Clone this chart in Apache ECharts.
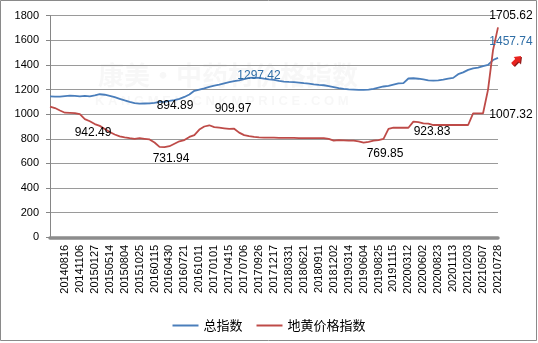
<!DOCTYPE html>
<html><head><meta charset="utf-8">
<script src="https://cdn.jsdelivr.net/npm/echarts@6/dist/echarts.min.js"></script>
<style>html,body{margin:0;padding:0;background:#fff}#c{width:538px;height:343px}</style>
</head><body><div id="c"></div>
<script>
var dates = [
'20140525','20140621','20140719','20140816','20140913','20141010','20141106','20141203','20141230',
'20150127','20150302','20150408','20150514','20150611','20150708','20150804','20150831','20150928',
'20151025','20151121','20151218','20160115','20160222','20160326','20160430','20160527','20160624',
'20160721','20160817','20160914','20161011','20161107','20161205','20170101','20170205','20170312',
'20170415','20170512','20170609','20170706','20170802','20170829','20170926','20171023','20171120',
'20171217','20180121','20180225','20180331','20180427','20180524','20180621','20180718','20180814',
'20180911','20181008','20181105','20181202','20190105','20190208','20190314','20190410','20190507',
'20190604','20190701','20190728','20190825','20190921','20191018','20191115','20191225','20200201',
'20200312','20200408','20200505','20200602','20200629','20200726','20200823','20200919','20201016',
'20201113','20201210','20210107','20210203','20210307','20210405','20210507','20210603','20210630',
'20210728'];
var totalIndex = [
1145,1142,1143,1147,1150,1148,1145,1148,1144,1152,1162,1158,1148,1138,1125,1112,1100,1090,1086,1087,
1088,1092,1100,1100,1108,1115,1125,1140,1160,1190,1200,1210,1222,1232,1240,1250,1260,1268,1275,1285,
1295,1297.42,1295,1288,1282,1278,1270,1265,1262,1260,1257,1252,1248,1242,1238,1235,1228,1220,1212,1206,
1202,1200,1198,1197,1200,1205,1215,1225,1230,1240,1250,1252,1290,1292,1288,1282,1275,1272,1275,1280,
1288,1295,1325,1340,1360,1372,1378,1390,1400,1440,1457.74];
var dihuangIndex = [
1062,1050,1030,1012,1010,1008,1000,960,942.49,920,905,880,855,835,820,812,805,800,805,800,
795,770,735,731.94,740,760,780,790,815,830,875,900,909.97,895,890,885,880,882,850,830,
822,815,812,810,810,809,808,808,807,807,806,806,805,805,805,805,800,785,790,788,
785,785,780,769.85,775,785,790,800,880,890,890,890,890,940,935,925,923.83,912,912,912,
912,912,912,912,912,1007.32,1007.32,1007.32,1200,1520,1705.62];
var seriesNames = ['总指数','地黄价格指数'];
var yTicks = {min:0, max:1800, interval:200};
var notes = [
  {t:'1297.42', x:259, y:76, c:'#2f6ea6'},
  {t:'894.89', x:175, y:106, c:'#000'},
  {t:'909.97', x:233, y:109, c:'#000'},
  {t:'942.49', x:93, y:133, c:'#000'},
  {t:'731.94', x:171, y:159, c:'#000'},
  {t:'769.85', x:385, y:154, c:'#000'},
  {t:'923.83', x:432, y:132, c:'#000'},
  {t:'1007.32', x:511, y:115, c:'#000'},
  {t:'1705.62', x:511, y:16, c:'#000'},
  {t:'1457.74', x:511, y:42, c:'#2f6ea6'}
];

var chart = echarts.init(document.getElementById('c'), null, {renderer:'canvas'});
var g = [
  {type:'rect', shape:{x:0.5,y:0.5,width:536,height:340}, style:{fill:null, stroke:'#8a8a8a', lineWidth:1}, z:0},
  {type:'text', x:98, y:62, style:{text:'康美·中药材价格指数', font:'bold 26px "Noto Sans CJK SC"', fill:'rgba(190,190,190,0.13)'}, z:0},
  {type:'text', x:95, y:95, style:{text:'K A N G M E I    C N K M P R I C E . C O M', font:'bold 13px "Liberation Sans"', fill:'rgba(190,190,190,0.13)'}, z:0},
  {type:'polygon', shape:{points:[[522,57],[521,64.4],[519.2,62.6],[514.9,66.9],[512.1,64.1],[516.4,59.8],[514.6,58]]}, style:{fill:'#8b1a1a'}, z:5},
  {type:'polygon', shape:{points:[[521,56],[520,63.4],[518.2,61.6],[513.9,65.9],[511.1,63.1],[515.4,58.8],[513.6,57]]}, style:{fill:'#e8231f'}, z:6}
];
notes.forEach(function(n){
  g.push({type:'text', x:n.x, y:n.y, style:{text:n.t, fill:n.c, font:'12px "Liberation Sans"', textAlign:'center', textVerticalAlign:'middle'}, z:10});
});

chart.setOption({
  animation:false,
  backgroundColor:'#fff',
  grid:{left:50, right:40, top:15.7, bottom:105.7, containLabel:false},
  legend:{
    data:[{name:seriesNames[0], icon:'rect'},{name:seriesNames[1], icon:'rect'}],
    left:'center', top:314, itemWidth:26, itemHeight:2, itemGap:14,
    textStyle:{fontSize:13, color:'#000', fontFamily:'"Noto Sans CJK SC"'}
  },
  xAxis:{
    type:'category', data:dates, boundaryGap:false, offset:1.5,
    axisLine:{show:true, lineStyle:{color:'#8c8c8c', width:3.5}},
    axisTick:{show:false},
    splitLine:{show:false},
    axisLabel:{
      rotate:90, fontSize:11, color:'#000', fontFamily:'"Liberation Sans"', margin:6,
      interval:function(i){return i>=3 && i%3===0;}
    }
  },
  yAxis:{
    type:'value', min:yTicks.min, max:yTicks.max, interval:yTicks.interval,
    axisLine:{show:true, lineStyle:{color:'#868686', width:1}},
    axisTick:{show:true, length:4, lineStyle:{color:'#868686'}},
    splitLine:{show:true, lineStyle:{color:'#9a9a9a', width:1}},
    axisLabel:{fontSize:11, color:'#000', fontFamily:'"Liberation Sans"', margin:11,
      formatter:function(v){return String(v);}}
  },
  series:[
    {name:seriesNames[0], type:'line', data:totalIndex, showSymbol:false, symbol:'none', smooth:false,
     lineStyle:{color:'#4a7ebb', width:1.8}, itemStyle:{color:'#4a7ebb'}, z:3},
    {name:seriesNames[1], type:'line', data:dihuangIndex, showSymbol:false, symbol:'none', smooth:false,
     lineStyle:{color:'#be4b48', width:1.8}, itemStyle:{color:'#be4b48'}, z:4}
  ],
  graphic:g
});
</script>
</body></html>
